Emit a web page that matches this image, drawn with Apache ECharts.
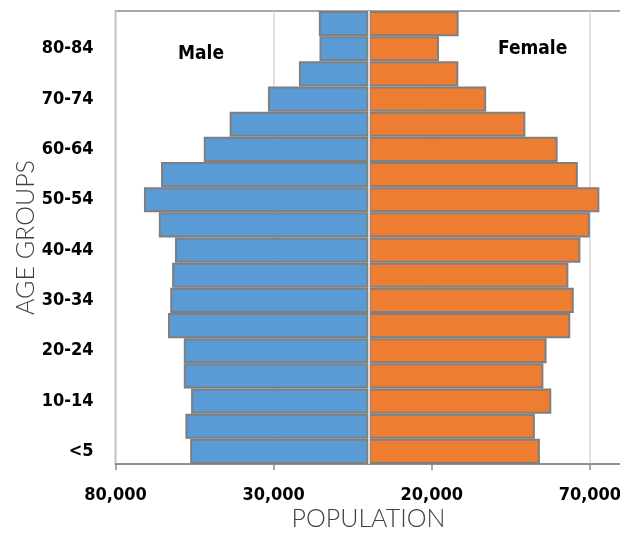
<!DOCTYPE html>
<html>
<head>
<meta charset="utf-8">
<script src="https://cdn.jsdelivr.net/npm/echarts@6/dist/echarts.min.js"></script>
<style>
html,body{margin:0;padding:0;background:#fff;}
#c{width:620px;height:544px;}
</style>
</head>
<body>
<div id="c"></div>
<script>
const categories = ['<5','5-9','10-14','15-19','20-24','25-29','30-34','35-39','40-44','45-49','50-54','55-59','60-64','65-69','70-74','75-79','80-84','85+'];
const male = [56400, 57900, 56100, 58400, 58400, 63400, 62700, 62100, 61200, 66300, 71000, 65600, 52100, 43900, 31800, 22000, 15500, 15700];
const female = [54200, 52600, 57800, 55300, 56300, 63800, 64900, 63200, 67000, 70000, 73000, 66200, 59800, 49600, 37200, 28400, 22300, 28500];
const xMin = -80000, xMax = 80000, xStep = 50000;

const condensed = "'Liberation Sans Narrow','DejaVu Sans Condensed',Roboto,sans-serif";
const light = "Lato,'Open Sans',sans-serif";

const chart = echarts.init(document.getElementById('c'), null, {renderer: 'canvas'});
chart.setOption({
  animation: false,
  grid: {left: 115.5, top: 11, width: 506, height: 453, show: true, borderColor: '#8a8a8a', borderWidth: 1.5, containLabel: false, outerBoundsMode: 'none'},
  xAxis: {
    type: 'value', min: xMin, max: xMax, interval: xStep,
    name: 'POPULATION', nameLocation: 'middle', nameGap: 42, nameMoveOverlap: false,
    nameTextStyle: {fontFamily: light, fontWeight: 300, fontSize: 25, color: '#404040'},
    axisLine: {show: true, lineStyle: {color: '#8a8a8a', width: 1.5}},
    axisTick: {show: true, length: 6, lineStyle: {color: '#8a8a8a', width: 1.5}},
    axisLabel: {
      margin: 22, fontFamily: condensed, fontWeight: 'bold', fontSize: 18, color: '#000',
      formatter: v => Math.abs(v).toLocaleString('en-US')
    },
    splitLine: {show: true, lineStyle: {color: '#d9d9d9', width: 1.5}}
  },
  yAxis: {
    type: 'category', data: categories,
    name: 'AGE GROUPS', nameLocation: 'middle', nameGap: 77, nameRotate: 90, nameMoveOverlap: false,
    nameTextStyle: {fontFamily: light, fontWeight: 300, fontSize: 25, color: '#404040'},
    axisLine: {show: false, onZero: false},
    axisTick: {show: false},
    axisLabel: {interval: 1, margin: 22, fontFamily: condensed, fontWeight: 'bold', fontSize: 18, color: '#000'}
  },
  series: [
    {
      name: 'Male', type: 'bar', data: male.map(v => -v),
      barCategoryGap: 0, barGap: '-100%',
      itemStyle: {color: '#5b9bd5', borderColor: '#7f7f7f', borderWidth: 2}
    },
    {
      name: 'Female', type: 'bar', data: female,
      barCategoryGap: 0, barGap: '-100%',
      itemStyle: {color: '#ed7d31', borderColor: '#7f7f7f', borderWidth: 2},
      markLine: {
        silent: true, symbol: 'none', label: {show: false},
        lineStyle: {color: '#d9d9d9', width: 2, type: 'solid'},
        data: [{xAxis: 0}]
      }
    }
  ],
  graphic: [
    {type: 'text', left: 178, top: 45, style: {text: 'Male', font: "bold 19px 'Liberation Sans Narrow','DejaVu Sans Condensed',Roboto,sans-serif", fill: '#000'}},
    {type: 'text', left: 498, top: 40, style: {text: 'Female', font: "bold 19px 'Liberation Sans Narrow','DejaVu Sans Condensed',Roboto,sans-serif", fill: '#000'}}
  ]
});
</script>
</body>
</html>
